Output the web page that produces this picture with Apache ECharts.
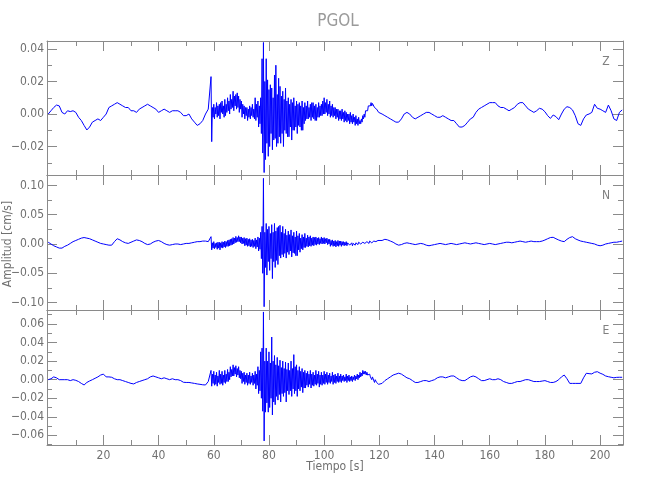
<!DOCTYPE html>
<html><head><meta charset="utf-8">
<script src="https://cdn.jsdelivr.net/npm/echarts@6/dist/echarts.min.js"></script>
<style>html,body{margin:0;padding:0;background:#fff}#c{width:650px;height:500px}</style>
</head><body><div id="c"></div>
<script>
// ---------- text ----------
const chartTitle = 'PGOL';
const componentNames = ['Z', 'N', 'E'];
const xAxisTitle = 'Tiempo [s]';
const yAxisTitle = 'Amplitud [cm/s]';

// ---------- tick labels ----------
const xTickLabels = [20, 40, 60, 80, 100, 120, 140, 160, 180, 200];
const xMinorTicks = [10, 30, 50, 70, 90, 110, 130, 150, 170, 190];
const zTickLabels = [-0.02, 0.00, 0.02, 0.04];
const zMinorTicks = [-0.03, -0.01, 0.01, 0.03];
const nTickLabels = [-0.10, -0.05, 0.00, 0.05, 0.10];
const nMinorTicks = [-0.075, -0.025, 0.025, 0.075];
const eTickLabels = [-0.06, -0.04, -0.02, 0.00, 0.02, 0.04, 0.06];
const eMinorTicks = [-0.07, -0.05, -0.03, -0.01, 0.01, 0.03, 0.05, 0.07];

// ---------- sampling of the three segments (s) ----------
const preStart = 0,    preStep = 1;
const evtStart = 59,   evtStep = 0.25;
const postStart = 120, postStep = 1;

// ---------- Z component (cm/s) ----------
const zPre = [0.000,0.002,0.004,0.0055,0.005,0.001,0.000,0.002,0.0015,0.002,
  0.001,-0.002,-0.004,-0.007,-0.0098,-0.008,-0.005,-0.004,-0.003,-0.004,
  -0.002,0.000,0.004,0.005,0.006,0.007,0.006,0.005,0.004,0.004,
  0.002,0.002,0.001,0.003,0.004,0.005,0.006,0.005,0.004,0.003,
  0.001,0.002,0.003,0.002,0.001,0.002,0.002,0.002,0.001,-0.001,
  -0.001,0.000,-0.003,-0.005,-0.007,-0.006,-0.004,0.000,0.003];
const zEvt = [
  0.023,-0.017,0.004,-0.002,   0.006,-0.003,0.004,0.000,    0.007,-0.002,0.005,-0.001,
  0.006,-0.003,0.007,0.001,    0.008,0.000,0.005,-0.002,    0.009,-0.001,0.006,0.001,
  0.010,0.002,0.008,0.000,     0.012,0.003,0.009,0.004,     0.014,0.002,0.011,0.005,
  0.012,0.003,0.013,0.004,     0.011,0.001,0.009,0.003,     0.008,-0.002,0.006,0.000,
  0.005,-0.003,0.004,-0.001,   0.004,-0.004,0.003,-0.002,   0.005,-0.003,0.004,-0.001,
  0.006,-0.002,0.003,-0.003,   0.010,-0.004,0.006,-0.002,   0.008,-0.008,0.005,-0.006,
  0.010,-0.012,0.034,-0.024,   0.044,-0.036,0.020,-0.028,   0.034,-0.018,0.021,-0.026,
  0.015,-0.020,0.018,-0.012,   0.016,-0.022,0.010,-0.016,   0.024,-0.015,0.030,-0.020,
  0.012,-0.018,0.022,-0.014,   0.017,-0.018,0.011,-0.012,   0.014,-0.020,0.009,-0.010,
  0.016,-0.012,0.008,-0.014,   0.010,-0.014,0.006,-0.008,   0.009,-0.016,0.007,-0.010,
  0.010,-0.010,0.005,-0.008,   0.008,-0.012,0.006,-0.007,   0.007,-0.008,0.005,-0.010,
  0.008,-0.010,0.004,-0.006,   0.007,-0.004,0.005,-0.003,   0.008,-0.003,0.004,-0.002,
  0.006,-0.004,0.007,-0.002,   0.007,-0.003,0.005,-0.004,   0.006,-0.004,0.004,-0.002,
  0.007,-0.002,0.005,-0.001,   0.006,-0.001,0.008,0.000,    0.010,0.000,0.007,0.001,
  0.009,-0.001,0.006,0.000,    0.008,-0.002,0.005,-0.001,   0.006,-0.002,0.004,-0.001,
  0.004,-0.003,0.003,-0.002,   0.003,-0.004,0.002,-0.003,   0.002,-0.004,0.003,-0.003,
  0.001,-0.005,0.002,-0.004,   0.001,-0.005,0.000,-0.004,   0.000,-0.006,0.001,-0.005,
  -0.001,-0.006,0.000,-0.005,  -0.002,-0.007,-0.001,-0.006, -0.003,-0.007,-0.002,-0.006,
  -0.004,-0.006,-0.003,-0.005, -0.001,-0.003,0.000,-0.002,  0.002,0.001,0.003,0.002,
  0.005,0.004,0.006,0.005,     0.007,0.005,0.0065,0.006,    0.006,0.004,0.005,0.004,
  0.003,0.002,0.002,0.001];
const zPost = [0.001,0.000,-0.001,-0.002,-0.003,-0.004,-0.005,-0.005,-0.003,0.000,
  0.001,0.000,-0.002,-0.003,-0.002,-0.001,0.000,0.001,0.001,0.000,
  -0.001,-0.002,-0.002,-0.001,-0.002,-0.003,-0.004,-0.004,-0.006,-0.008,
  -0.008,-0.007,-0.005,-0.003,-0.002,0.001,0.003,0.004,0.005,0.006,
  0.007,0.007,0.007,0.005,0.004,0.004,0.003,0.002,0.003,0.004,
  0.006,0.007,0.007,0.005,0.003,0.002,0.001,0.002,0.0035,0.003,
  0.0014,-0.001,-0.0027,-0.0006,-0.0016,-0.0035,0.000,0.003,0.0045,0.004,
  0.0025,-0.001,-0.006,-0.007,-0.003,-0.0006,0.000,0.001,0.006,0.0035,
  0.003,0.002,0.001,0.0055,0.002,-0.003,-0.004,0.001,0.0025];

// ---------- N component (cm/s) ----------
const nPre = [0.003,0.000,-0.003,-0.005,-0.007,-0.007,-0.004,-0.002,0.001,0.004,
  0.006,0.008,0.010,0.011,0.010,0.009,0.007,0.005,0.003,0.001,
  0.000,-0.001,-0.002,-0.002,0.004,0.009,0.007,0.004,0.002,0.001,
  0.003,0.005,0.007,0.006,0.004,0.001,-0.001,0.000,0.003,0.005,
  0.006,0.004,0.001,-0.001,-0.002,-0.001,0.000,0.000,-0.001,0.000,
  0.001,0.001,0.002,0.003,0.004,0.004,0.005,0.005,0.004];
const nEvt = [
  0.0125,-0.010,0.002,-0.007,  0.004,-0.008,0.001,-0.006,   0.002,-0.009,0.003,-0.007,
  0.003,-0.010,0.002,-0.006,   0.004,-0.007,0.003,-0.005,   0.005,-0.006,0.004,-0.004,
  0.006,-0.004,0.007,-0.003,   0.008,-0.002,0.009,-0.001,   0.011,0.000,0.010,0.002,
  0.013,0.003,0.011,0.004,     0.014,0.004,0.012,0.002,     0.012,0.000,0.010,0.001,
  0.011,-0.003,0.009,-0.002,   0.010,-0.004,0.008,-0.003,   0.009,-0.005,0.007,-0.004,
  0.008,-0.006,0.006,-0.004,   0.010,-0.008,0.007,-0.005,   0.012,-0.012,0.010,-0.009,
  0.020,-0.025,0.030,-0.050,   0.112,-0.107,0.020,-0.040,   0.035,-0.053,0.025,-0.030,
  0.030,-0.045,0.018,-0.025,   0.033,-0.059,0.020,-0.030,   0.035,-0.040,0.022,-0.028,
  0.028,-0.035,0.030,-0.020,   0.032,-0.024,0.020,-0.018,   0.030,-0.022,0.018,-0.016,
  0.025,-0.024,0.015,-0.014,   0.022,-0.018,0.016,-0.012,   0.024,-0.022,0.014,-0.015,
  0.020,-0.016,0.012,-0.020,   0.022,-0.020,0.014,-0.010,   0.018,-0.014,0.010,-0.008,
  0.016,-0.010,0.012,-0.006,   0.018,-0.006,0.010,-0.004,   0.015,-0.005,0.012,-0.003,
  0.014,-0.004,0.010,-0.002,   0.012,-0.003,0.011,-0.001,   0.012,-0.002,0.010,0.000,
  0.011,-0.001,0.009,0.001,    0.012,0.000,0.010,0.001,     0.011,0.000,0.009,0.002,
  0.010,-0.001,0.008,0.000,    0.008,-0.004,0.006,-0.002,   0.007,-0.004,0.005,-0.003,
  0.006,-0.005,0.004,-0.003,   0.006,-0.004,0.005,-0.002,   0.005,-0.004,0.004,-0.002,
  0.004,-0.003,0.003,-0.002,   0.004,-0.003,0.002,-0.001,   0.002,-0.002,0.001,-0.002,
  0.002,-0.003,0.001,-0.002,   0.001,-0.002,0.002,-0.001,   0.002,-0.001,0.003,0.000,
  0.003,0.000,0.002,-0.001,    0.003,0.000,0.004,0.001,     0.003,0.001,0.004,0.002,
  0.004,0.001,0.005,0.002,     0.004,0.002,0.005,0.003,     0.005,0.003,0.006,0.004,
  0.006,0.004,0.006,0.005];
const nPost = [0.005,0.006,0.008,0.007,0.005,0.003,0.000,-0.002,-0.001,0.001,
  0.002,0.001,0.000,-0.001,0.000,0.001,0.000,-0.002,-0.003,-0.002,
  -0.001,0.000,0.001,0.000,-0.001,0.000,0.001,0.000,-0.001,0.000,
  0.001,0.002,0.001,0.000,0.001,0.002,0.001,0.000,-0.001,0.000,
  0.001,0.000,-0.001,0.000,0.001,0.002,0.003,0.003,0.002,0.003,
  0.004,0.005,0.004,0.003,0.004,0.005,0.004,0.004,0.004,0.005,
  0.0068,0.009,0.011,0.0114,0.009,0.0068,0.005,0.004,0.008,0.011,
  0.0125,0.009,0.0068,0.005,0.004,0.003,0.002,0.001,0.000,-0.002,
  -0.003,-0.002,0.000,0.001,0.002,0.003,0.003,0.004,0.005];

// ---------- E component (cm/s) ----------
const ePre = [0.000,0.001,0.003,0.002,0.000,0.000,0.000,0.000,-0.001,0.000,
  -0.0007,-0.002,-0.004,-0.0057,-0.003,-0.0014,0.000,0.0015,0.003,0.005,
  0.006,0.003,0.003,0.0026,0.001,0.000,0.000,-0.001,-0.002,-0.003,
  -0.004,-0.0046,-0.003,-0.002,-0.001,0.000,0.001,0.003,0.004,0.003,
  0.002,0.001,0.002,0.001,0.000,0.001,0.000,0.000,-0.001,-0.0028,
  -0.003,-0.003,-0.0035,-0.004,-0.0046,-0.005,-0.0055,-0.0057,-0.002];
const eEvt = [
  0.010,-0.007,0.006,-0.004,   0.009,-0.006,0.005,-0.005,   0.008,-0.007,0.004,-0.003,
  0.010,-0.005,0.006,-0.004,   0.009,-0.006,0.005,-0.003,   0.010,-0.004,0.006,-0.002,
  0.011,-0.002,0.008,0.000,    0.014,0.003,0.011,0.004,     0.016,0.004,0.013,0.006,
  0.015,0.003,0.012,0.005,     0.014,0.002,0.010,0.001,     0.009,-0.004,0.007,-0.002,
  0.008,-0.005,0.005,-0.003,   0.007,-0.006,0.005,-0.004,   0.008,-0.005,0.004,-0.003,
  0.007,-0.006,0.005,-0.004,   0.009,-0.010,0.006,-0.006,   0.014,-0.015,0.010,-0.012,
  0.030,-0.020,0.034,-0.034,   0.073,-0.066,0.020,-0.035,   0.034,-0.025,0.020,-0.035,
  0.030,-0.030,0.018,-0.020,   0.046,-0.038,0.020,-0.024,   0.026,-0.027,0.016,-0.018,
  0.024,-0.022,0.015,-0.016,   0.021,-0.024,0.013,-0.015,   0.020,-0.018,0.012,-0.014,
  0.019,-0.024,0.011,-0.012,   0.018,-0.016,0.010,-0.012,   0.020,-0.018,0.012,-0.010,
  0.027,-0.015,0.014,-0.012,   0.016,-0.018,0.010,-0.010,   0.014,-0.012,0.009,-0.008,
  0.012,-0.014,0.008,-0.009,   0.010,-0.009,0.007,-0.006,   0.009,-0.008,0.006,-0.005,
  0.010,-0.009,0.006,-0.006,   0.008,-0.007,0.005,-0.005,   0.010,-0.006,0.006,-0.004,
  0.009,-0.008,0.005,-0.005,   0.008,-0.006,0.005,-0.004,   0.009,-0.005,0.006,-0.003,
  0.008,-0.005,0.005,-0.003,   0.007,-0.004,0.004,-0.002,   0.008,-0.005,0.005,-0.003,
  0.006,-0.004,0.004,-0.002,   0.007,-0.003,0.004,-0.002,   0.006,-0.003,0.004,-0.001,
  0.005,-0.002,0.003,-0.001,   0.006,-0.003,0.004,-0.001,   0.005,-0.002,0.003,-0.001,
  0.004,-0.002,0.003,0.000,    0.005,-0.001,0.004,0.001,    0.006,0.000,0.005,0.002,
  0.008,0.003,0.007,0.004,     0.010,0.006,0.009,0.006,     0.009,0.005,0.008,0.005,
  0.007,0.003,0.006,0.003,     0.004,0.000,0.003,0.001,     0.001,-0.003,0.000,-0.002,
  -0.003,-0.005,-0.004,-0.005];
const ePost = [-0.0057,-0.004,-0.001,0.001,0.003,0.005,0.006,0.007,0.006,0.004,
  0.002,0.001,-0.001,-0.003,-0.003,-0.002,-0.001,-0.001,-0.002,-0.001,
  0.000,0.002,0.003,0.003,0.002,0.003,0.004,0.004,0.002,0.000,
  -0.001,-0.001,0.001,0.003,0.004,0.003,0.001,-0.001,-0.001,0.000,
  0.001,0.000,0.000,0.001,0.000,-0.002,-0.003,-0.004,-0.004,-0.003,
  -0.002,-0.002,-0.001,0.000,0.000,-0.001,-0.002,-0.002,-0.002,-0.0015,
  -0.001,-0.002,-0.003,-0.003,-0.002,0.000,0.003,0.005,0.001,-0.004,
  -0.004,-0.004,-0.004,-0.004,0.002,0.0069,0.0065,0.0062,0.008,0.0086,
  0.007,0.0058,0.004,0.0032,0.0026,0.002,0.0025,0.0026,0.0026];

// ---------- build series data from the segments ----------
function trace(pre, evt, post) {
  const out = [];
  pre.forEach((v, i) => out.push([preStart + i * preStep, v]));
  evt.forEach((v, i) => out.push([evtStart + i * evtStep, v]));
  post.forEach((v, i) => out.push([postStart + i * postStep, v]));
  return out;
}
const traces = [trace(zPre, zEvt, zPost), trace(nPre, nEvt, nPost), trace(ePre, eEvt, ePost)];

// ---------- layout ----------
const FONT = "'Liberation Sans Narrow','DejaVu Sans Condensed','Roboto Condensed',sans-serif";
const AXIS = '#8a8a8a', TXT = '#707070';
const panels = [
  {top: 41,  height: 134, min: -0.0375, max: 0.0449, labels: zTickLabels, minor: zMinorTicks, nameY: 62},
  {top: 175, height: 135, min: -0.1126, max: 0.1177, labels: nTickLabels, minor: nMinorTicks, nameY: 196},
  {top: 310, height: 135, min: -0.0704, max: 0.0751, labels: eTickLabels, minor: eMinorTicks, nameY: 331}
];
const xMin = -0.44, xMax = 208.3;
const fmt = v => (v < 0 ? '\u2212' : '') + Math.abs(v).toFixed(2);

const grid = [], xAxis = [], yAxis = [], series = [];
panels.forEach((p, g) => {
  grid.push({left: 47, right: 27, top: p.top, height: p.height});
  const xb = (pos, ticks, len, line, labels) => ({
    type: 'value', gridIndex: g, position: pos, min: xMin, max: xMax,
    axisLine: {show: line, onZero: false, lineStyle: {color: AXIS, width: 1}},
    axisTick: {show: true, inside: true, length: len, customValues: ticks, lineStyle: {color: AXIS}},
    axisLabel: labels ? {show: true, customValues: xTickLabels, margin: 5, color: TXT, fontSize: 12, fontFamily: FONT}
                      : {show: false},
    splitLine: {show: false}
  });
  xAxis.push(xb('bottom', xTickLabels, 10, true, g === 2));
  xAxis.push(xb('bottom', xMinorTicks, 5, false, false));
  xAxis.push(xb('top', xTickLabels, 10, true, false));
  xAxis.push(xb('top', xMinorTicks, 5, false, false));
  const yb = (pos, ticks, len, line, labels) => ({
    type: 'value', gridIndex: g, position: pos, min: p.min, max: p.max,
    axisLine: {show: line, onZero: false, lineStyle: {color: AXIS, width: 1}},
    axisTick: {show: true, inside: true, length: len, customValues: ticks, lineStyle: {color: AXIS}},
    axisLabel: labels ? {show: true, customValues: p.labels, formatter: fmt, margin: 3, color: TXT, fontSize: 12, fontFamily: FONT}
                      : {show: false},
    splitLine: {show: false}
  });
  yAxis.push(yb('left', p.labels, 10, true, true));
  yAxis.push(yb('left', p.minor, 5, false, false));
  yAxis.push(yb('right', p.labels, 10, true, false));
  yAxis.push(yb('right', p.minor, 5, false, false));
  series.push({
    type: 'line', xAxisIndex: g * 4, yAxisIndex: g * 4, data: traces[g],
    showSymbol: false, symbol: 'none', sampling: null, clip: true,
    lineStyle: {color: '#0000ff', width: 1}, silent: true
  });
});

const graphic = [
  {type: 'text', x: 338, y: 22, style: {text: chartTitle, fill: '#9a9a9a', font: "17px " + FONT, textAlign: 'center', textVerticalAlign: 'middle'}},
  {type: 'text', x: 335, y: 467, style: {text: xAxisTitle, fill: TXT, font: "12px " + FONT, textAlign: 'center', textVerticalAlign: 'middle'}},
  {type: 'text', x: 8, y: 244, rotation: Math.PI / 2, style: {text: yAxisTitle, fill: TXT, font: "12px " + FONT, textAlign: 'center', textVerticalAlign: 'middle'}}
];
panels.forEach((p, g) => graphic.push({type: 'text', x: 606, y: p.nameY,
  style: {text: componentNames[g], fill: '#808080', font: "12px " + FONT, textAlign: 'center', textVerticalAlign: 'middle'}}));

const chart = echarts.init(document.getElementById('c'), null, {renderer: 'canvas'});
chart.setOption({animation: false, backgroundColor: '#fff', grid, xAxis, yAxis, series, graphic});
</script></body></html>
